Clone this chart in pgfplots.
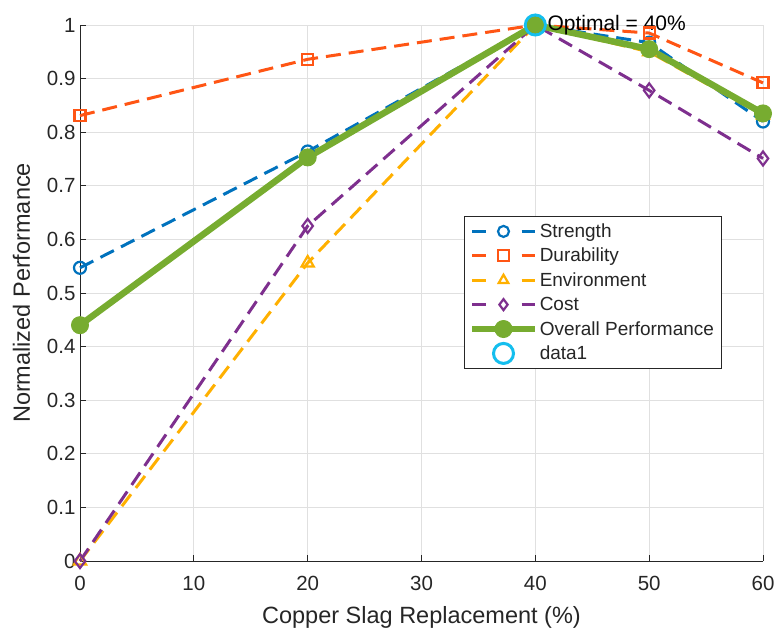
\documentclass[border=0pt]{standalone}
\usepackage{pgfplots}
\pgfplotsset{compat=1.18}
\usepackage{fontspec}
\setmainfont{Liberation Sans}
\definecolor{cS}{RGB}{0,114,189}
\definecolor{cD}{RGB}{255,85,20}
\definecolor{cE}{RGB}{255,176,0}
\definecolor{cC}{RGB}{126,47,142}
\definecolor{cO}{RGB}{119,172,48}
\definecolor{cD1}{RGB}{20,190,238}
\definecolor{txt}{RGB}{38,38,38}
\pgfplotsset{
  legdash/.style={legend image code/.code={
    \draw[##1, solid] (0pt,0pt) -- (13pt,0pt);
    \draw[##1, solid] (49pt,0pt) -- (62pt,0pt);
    \draw[##1, solid, only marks, mark size=5.5pt] plot coordinates {(31pt,0pt)};
  }},
  legsolid/.style={legend image code/.code={
    \draw[##1] (0pt,0pt) -- (62pt,0pt);
    \draw[##1, only marks] plot coordinates {(31pt,0pt)};
  }},
  legmark/.style={legend image code/.code={
    \draw[##1] plot coordinates {(31pt,0pt)};
  }},
}
\begin{document}
\begin{tikzpicture}
\begin{axis}[
  scale only axis, width=683pt, height=536pt,
  xmin=0, xmax=60, ymin=0, ymax=1,
  xtick={0,10,20,30,40,50,60},
  ytick={0,0.1,0.2,0.3,0.4,0.5,0.6,0.7,0.8,0.9,1},
  yticklabel style={/pgf/number format/fixed,/pgf/number format/precision=1, xshift=-1pt},
  xticklabel style={yshift=-12pt},
  /pgf/number format/assume math mode=true,
  axis x line*=bottom, axis y line*=left,
  axis line style={-, color=txt, line width=0.8pt},
  tick style={color=txt, line width=0.8pt},
  major tick length=6pt,
  tick align=inside,
  grid=major,
  grid style={color=black!12, line width=0.8pt},
  ticklabel style={font=\fontsize{20.5}{23}\selectfont, text=txt},
  xlabel={Copper Slag Replacement (\%)},
  ylabel={Normalized Performance},
  label style={font=\fontsize{23.5}{26}\selectfont, text=txt},
  xlabel style={yshift=-9pt},
  ylabel style={yshift=10pt},
  legend style={at={(0.562,0.644)}, anchor=north west, font=\fontsize{19}{21}\selectfont,
    draw=txt, line width=0.8pt, fill=white, inner xsep=5pt, inner ysep=3pt, row sep=0pt,
    nodes={minimum height=24.4pt, inner ysep=0pt},
    cells={anchor=west, text=txt}},
  clip=false,
]
\addplot[legdash, cS, line width=3pt, dash pattern=on 15pt off 8pt, mark=o, mark size=6pt, mark options={solid, line width=2.2pt}]
  coordinates {(0,0.547) (20,0.764) (40,1.0) (50,0.967) (60,0.820)};
\addlegendentry{Strength}
\addplot[legdash, cD, line width=3pt, dash pattern=on 15pt off 8pt, mark=square, mark size=5.5pt, mark options={solid, line width=2.2pt}]
  coordinates {(0,0.831) (20,0.936) (40,1.0) (50,0.985) (60,0.892)};
\addlegendentry{Durability}
\addplot[legdash, cE, line width=3pt, dash pattern=on 15pt off 8pt, mark=triangle, mark size=7pt, mark options={solid, line width=2.2pt}]
  coordinates {(0,0.0) (20,0.556) (40,1.0) (50,0.950) (60,0.832)};
\addlegendentry{Environment}
\addplot[legdash, cC, line width=3pt, dash pattern=on 15pt off 8pt, mark=diamond, mark size=7pt, mark options={solid, line width=2.2pt}]
  coordinates {(0,0.0) (20,0.625) (40,1.0) (50,0.878) (60,0.751)};
\addlegendentry{Cost}
\addplot[legsolid, cO, line width=6.5pt, mark=*, mark size=8.5pt, mark options={solid, line width=1pt, fill=cO}]
  coordinates {(0,0.440) (20,0.753) (40,1.0) (50,0.955) (60,0.835)};
\addlegendentry{Overall Performance}
\addplot[legmark, cD1, only marks, mark=o, mark size=10pt, mark options={line width=3pt}]
  coordinates {(40,1.0)};
\addlegendentry{data1}
\addplot[cO, only marks, mark=*, mark size=8pt, mark options={fill=cO}, forget plot]
  coordinates {(40,1.0)};
\node[anchor=west, font=\fontsize{21}{24}\selectfont, text=black, inner sep=0pt] at (axis cs:40,1.0) [xshift=12pt] {Optimal = 40\%};
\end{axis}
\path[use as bounding box] ([xshift=-80pt,yshift=-77pt]current axis.south west) rectangle ([xshift=21pt,yshift=25pt]current axis.north east);
\end{tikzpicture}
\end{document}
